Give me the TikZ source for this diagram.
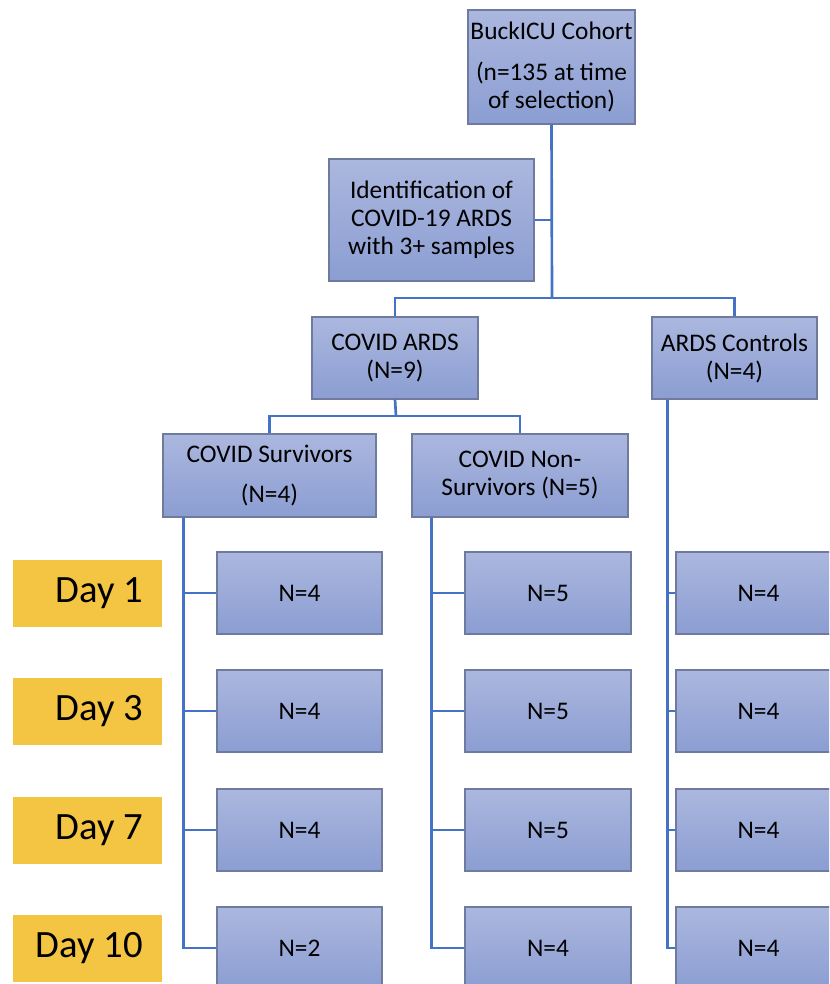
\documentclass[tikz,border=0pt]{standalone}
\usepackage{fontspec}
\setmainfont{Carlito}
\definecolor{boxtop}{RGB}{171,183,222}
\definecolor{boxbot}{RGB}{139,157,210}
\definecolor{boxline}{RGB}{110,122,158}
\definecolor{linkblue}{RGB}{68,114,196}
\definecolor{dayfill}{RGB}{244,196,67}
\tikzset{
  box/.style={draw=boxline, line width=0.8pt, top color=boxtop, bottom color=boxbot,
    align=center, inner sep=0pt, minimum height=61.5pt,
    font=\fontsize{19}{21}\selectfont},
  daybox/.style={fill=dayfill, minimum height=50.25pt, minimum width=111.75pt,
    inner xsep=14.25pt, inner ysep=0pt,
    font=\fontsize{29}{34}\selectfont},
  link/.style={draw=linkblue, line width=2pt}
}
\begin{document}
\begin{tikzpicture}[x=0.75pt,y=-0.75pt]
      \useasboundingbox (0,0) rectangle (829,984);
      \clip (0,0) rectangle (829,984);

      % top of the tree
      \node[box, minimum width=125.25pt, minimum height=85.5pt] (cohort) at (551.5,67)
        {BuckICU Cohort\\[9.75pt](n=135 at time\\of selection)};
      \node[box, minimum width=153.75pt, minimum height=91.5pt] (ident) at (431.5,220)
        {Identification of\\COVID-19 ARDS\\with 3+ samples};
      \node[box, minimum width=124.5pt] (ards) at (395,358) {COVID ARDS\\(N=9)};
      \node[box, minimum width=123.75pt] (ctrl) at (734.5,358) {ARDS Controls\\(N=4)};
      \node[box, minimum width=159.75pt, minimum height=62.25pt] (surv) at (269.5,475.5)
        {COVID Survivors\\[9pt](N=4)};
      \node[box, minimum width=162pt, minimum height=62.25pt] (nonsurv) at (520,475.5)
        {COVID Non-\\Survivors (N=5)};

      % connectors between groups
      \coordinate (split) at (552,298);
      \coordinate (split2) at (396,416);
      \draw[link] (cohort.south) -- (split);
      \draw[link] (ident.east) -- (ident.east -| split);
      \draw[link] (ards.north) -- (ards.north |- split) -- (ctrl.north |- split) -- (ctrl.north);
      \draw[link] (ards.south) -- (split2);
      \draw[link] (surv.north) -- (surv.north |- split2) -- (nonsurv.north |- split2) -- (nonsurv.north);

      % trunks of the three columns
      \coordinate (svtop) at ([xshift=15.75pt]surv.south west);
      \coordinate (nstop) at ([xshift=15pt]nonsurv.south west);
      \coordinate (cttop) at ([xshift=12pt]ctrl.south west);

      % days and counts
      \foreach \d/\y/\a/\b/\c [count=\i] in {1/593/4/5/4, 3/711/4/5/4, 7/830/4/5/4, 10/948/2/4/4} {
        \node[daybox] (day\i) at (87.5,\y) {\makebox[83.25pt][r]{Day \d}};
        \node[box, minimum width=123.75pt] (sv\i) at (299.5,\y) {N=\a};
        \node[box, minimum width=124.5pt] (ns\i) at (548,\y) {N=\b};
        \node[box, minimum width=123.75pt] (ct\i) at (758.5,\y) {N=\c};
        \draw[link] (svtop) |- (sv\i.west);
        \draw[link] (nstop) |- (ns\i.west);
        \draw[link] (cttop) |- (ct\i.west);
      }
    \end{tikzpicture}
\end{document}
